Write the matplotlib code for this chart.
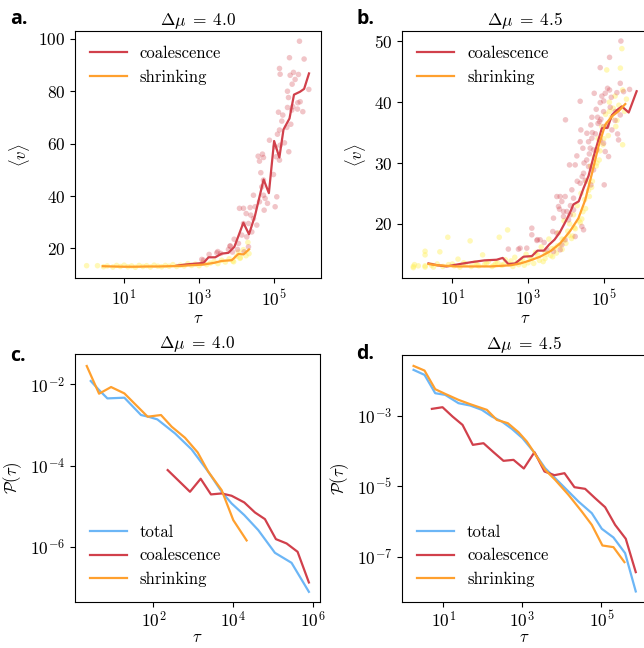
import numpy as np
import matplotlib
matplotlib.use("Agg")
import matplotlib.pyplot as plt

plt.rcParams['font.family'] = 'serif'
plt.rcParams['font.serif'] = ['cmr10', 'DejaVu Serif']
plt.rcParams['mathtext.fontset'] = 'cm'
plt.rcParams['axes.formatter.use_mathtext'] = True
plt.rcParams['font.size'] = 12

RED = '#d1404b'
ORANGE = '#ffa02e'
BLUE = '#6cb6f6'
YELLOW = '#fff060'

# ---------------- Panel a (dmu = 4.0): log10(tau), <v>
a_coal_logt = [2.40, 2.67, 3.00, 3.12, 3.25, 3.43, 3.60, 3.78, 3.94, 4.18, 4.33, 4.49, 4.72, 4.86, 5.00, 5.14, 5.25, 5.41, 5.53, 5.69, 5.80, 5.93]
a_coal_v = [13.4, 13.9, 14.3, 14.5, 16.6, 16.6, 18.0, 18.3, 20.6, 29.8, 25.4, 32.5, 46.3, 41.1, 61.0, 54.7, 65.4, 69.6, 78.7, 79.8, 80.9, 86.8]
a_shr_logt = [0.43, 0.70, 1.00, 1.30, 1.60, 1.90, 2.20, 2.50, 2.80, 3.10, 3.40, 3.60, 3.87, 4.05, 4.18, 4.33]
a_shr_v = [13.2, 13.1, 13.0, 13.0, 13.1, 13.1, 13.2, 13.3, 13.6, 13.8, 14.5, 15.2, 15.5, 17.9, 17.7, 19.6]

a_coal_pts_logt = [5.676, 5.409, 5.80, 5.143, 5.16, 5.516, 5.427, 5.649, 5.56, 5.48, 5.356, 5.925, 5.383, 5.694,
                   5.631, 5.498, 5.356, 5.623, 5.765, 5.116, 5.231, 5.471, 5.205, 5.445, 5.338, 5.143, 5.089,
                   4.876, 5.276, 5.16, 5.027, 4.574, 4.689, 4.716, 4.609, 5.054, 5.143, 5.391, 4.645, 4.716,
                   4.983, 4.671, 5.071, 4.449, 4.716, 4.76, 4.609, 4.823, 5.027, 4.734, 4.076, 4.183, 4.36,
                   4.494, 4.254, 4.378, 4.449, 4.183, 4.316, 4.538, 4.405, 4.138, 4.271, 3.934, 4.049, 3.827,
                   4.023, 4.2, 4.316, 3.266, 3.497, 3.577, 3.782, 3.826, 3.889, 3.115, 3.07, 3.47]
a_coal_pts_v = [99.1, 92.8, 92.3, 88.7, 86.5, 87.2, 86.1, 86.4, 84.5, 82.7, 80.0, 80.7, 77.6, 76.0,
                75.6, 74.1, 73.8, 73.2, 72.2, 72.0, 70.9, 72.8, 68.6, 67.4, 66.2, 65.2, 63.6,
                61.3, 60.3, 59.4, 58.8, 55.2, 56.0, 54.7, 53.3, 55.0, 53.7, 56.9, 48.9, 46.1,
                48.2, 43.5, 39.7, 40.3, 40.3, 39.1, 37.8, 37.2, 35.9, 34.6, 35.3, 35.3, 35.6,
                35.9, 33.3, 32.7, 31.4, 29.5, 29.5, 28.9, 26.3, 25.1, 24.4, 23.5, 21.9, 20.9,
                19.6, 18.7, 20.6, 17.7, 18.8, 18.1, 19.6, 20.9, 18.6, 15.5, 15.8, 18.3]
a_shr_pts_logt = [0.0, 0.29, 0.45, 0.55, 0.7, 0.8, 0.9, 1.0, 1.1, 1.2, 1.3, 1.4, 1.5, 1.6, 1.7, 1.8, 1.9, 2.0,
                  2.1, 2.2, 2.3, 2.4, 2.5, 2.6, 2.7, 2.8, 2.9, 3.0, 3.1, 3.2, 3.3, 3.4, 3.5, 3.6, 3.7, 3.8,
                  3.9, 4.0, 4.05, 4.1, 4.18, 4.25, 4.3, 4.33, 3.92, 4.09]
a_shr_pts_v = [13.4, 13.4, 13.0, 13.3, 12.9, 13.5, 13.1, 13.6, 13.0, 13.3, 12.8, 13.5, 13.1, 13.4, 12.9, 13.6, 13.2, 13.0,
               13.5, 13.2, 13.8, 13.1, 13.6, 13.3, 14.2, 13.5, 14.0, 13.4, 14.6, 13.8, 14.4, 15.0, 14.2, 15.5, 14.8, 16.0,
               15.2, 17.0, 18.6, 16.5, 19.5, 17.2, 22.3, 18.0, 14.9, 16.2]

# ---------------- Panel b (dmu = 4.5)
b_coal_logt = [0.37, 0.60, 0.85, 1.20, 1.50, 1.85, 2.17, 2.33, 2.48, 2.66, 2.88, 3.10, 3.25, 3.42, 3.56, 3.70, 3.84,
               3.96, 4.10, 4.20, 4.34, 4.47, 4.60, 4.73, 4.86, 4.95, 5.10, 5.22, 5.35, 5.48, 5.66, 5.87]
b_coal_v = [13.5, 13.2, 13.0, 13.4, 13.7, 14.0, 14.1, 14.4, 13.4, 13.5, 14.6, 14.7, 15.6, 15.6, 16.6, 17.4, 18.6,
            20.0, 21.7, 23.2, 23.7, 25.9, 27.9, 31.0, 33.8, 35.7, 35.8, 37.9, 38.7, 39.3, 38.3, 41.8]
b_shr_logt = [0.37, 0.60, 0.85, 1.10, 1.40, 1.70, 2.00, 2.30, 2.55, 2.80, 3.06, 3.32, 3.59, 3.85, 4.11, 4.33, 4.51,
              4.69, 4.86, 5.04, 5.22, 5.39, 5.57]
b_shr_v = [13.4, 13.2, 13.1, 13.0, 13.0, 13.0, 13.0, 13.1, 13.2, 13.5, 14.0, 14.6, 15.5, 16.8, 18.8, 20.9, 23.9,
           28.3, 32.7, 36.3, 37.7, 38.5, 39.7]

b_coal_pts_logt = [5.454, 5.154, 4.907, 5.437, 5.683, 5.101, 5.154, 5.04, 4.749, 5.348, 5.525, 4.951, 4.907, 4.378,
                   5.172, 4.802, 4.996, 5.304, 5.437, 4.837, 4.925, 4.687, 4.89, 4.66, 4.996, 5.084, 5.216, 4.396,
                   4.555, 5.366, 4.687, 4.907, 4.996, 4.599, 4.378, 5.392, 4.449, 4.643, 4.731, 4.819, 5.04, 5.128,
                   4.29, 4.096, 4.246, 4.467, 4.599, 4.431, 4.378, 4.51, 4.66, 4.731, 5.013, 3.761, 3.849, 3.981,
                   4.158, 4.202, 3.893, 3.805, 3.937, 3.832, 4.026, 4.114, 4.202, 3.673, 3.937, 4.07, 4.422, 4.467,
                   3.655, 3.761, 3.1, 3.232, 3.32, 3.1, 3.426, 3.893, 3.849, 3.673, 3.496, 2.967, 3.981, 4.246,
                   3.99, 2.747, 3.249, 2.79, 2.48, 4.85, 4.78, 5.0, 5.2, 4.55, 4.62, 4.3, 4.12, 4.48, 4.7, 5.3]
b_coal_pts_v = [50.05, 47.37, 45.68, 43.1, 42.1, 42.28, 42.0, 41.46, 41.46, 41.57, 41.73, 41.0, 39.93, 40.15,
                39.16, 38.83, 38.45, 38.45, 37.9, 37.52, 37.19, 37.52, 36.81, 36.26, 35.99, 35.99, 35.44, 35.44,
                34.89, 34.78, 34.07, 33.8, 33.25, 33.5, 33.5, 33.8, 32.43, 32.43, 32.16, 32.16, 31.88, 31.06,
                31.17, 29.69, 29.69, 28.32, 29.42, 27.78, 26.68, 27.12, 26.41, 28.87, 26.41, 24.49, 24.49, 24.49,
                25.59, 24.22, 23.67, 22.85, 22.03, 22.41, 22.03, 21.48, 22.3, 20.94, 21.21, 20.66, 19.57, 19.02,
                18.74, 18.47, 19.29, 17.27, 17.38, 18.2, 16.94, 16.56, 15.73, 15.46, 15.73, 16.01, 17.38, 17.92,
                37.1, 15.84, 17.4, 16.0, 15.85, 36.5, 34.8, 40.2, 40.8, 30.5, 31.5, 27.0, 23.0, 30.0, 35.0, 37.0]
b_shr_pts_logt = [-0.03, -0.03, 0.0, 0.28, 0.28, 0.28, 0.28, 0.45, 0.6, 0.67, 0.75, 0.88, 0.9, 1.05, 1.15, 1.2, 1.35,
                  1.47, 1.5, 1.6, 1.7, 1.8, 1.85, 1.95, 2.05, 2.15, 2.24, 2.3, 2.4, 2.46, 2.5, 2.6, 2.65, 2.75, 2.8,
                  2.9, 2.95, 3.0, 3.05, 3.15, 3.2, 3.3, 3.35, 3.45, 3.5, 3.55, 3.6, 3.7, 3.75, 3.8, 3.85, 3.9, 3.95,
                  4.0, 4.05, 4.1, 4.15, 4.2, 4.25, 4.3, 4.35, 4.4, 4.45, 4.5, 4.55, 4.6, 4.65, 4.7, 4.75, 4.8, 4.85,
                  4.9, 4.95, 5.0, 5.05, 5.1, 5.08, 5.15, 5.2, 5.25, 5.3, 5.35, 5.4, 5.44, 5.48, 5.5, 5.55, 5.6, 5.5,
                  3.4, 3.65, 3.9, 4.18, 4.42, 4.62, 4.88, 5.12,
                  2.2, 2.35, 2.55, 2.7, 2.85, 3.1, 3.25, 3.45, 3.62, 3.78, 3.95, 4.08, 4.22, 4.38, 4.52, 4.68,
                  4.82, 4.98, 5.15, 5.32, 1.0, 1.3, 1.65, 1.9, 2.1, 0.5, 0.1]
b_shr_pts_v = [13.0, 12.8, 13.3, 13.1, 12.9, 15.5, 14.9, 13.2, 13.4, 15.4, 13.0, 17.8, 13.3, 13.1, 14.2, 12.9, 13.4,
               17.2, 13.0, 13.6, 13.1, 14.9, 13.3, 13.8, 13.0, 13.5, 17.8, 13.2, 14.1, 19.0, 13.4, 13.0, 14.5, 13.3, 13.9,
               13.2, 15.0, 13.6, 14.4, 13.5, 15.3, 14.0, 16.2, 14.3, 15.0, 17.5, 14.8, 16.0, 15.2, 18.5, 16.6, 17.5, 20.5,
               16.8, 18.8, 20.0, 17.6, 21.5, 19.2, 23.0, 20.5, 25.0, 22.0, 24.0, 27.0, 25.5, 29.5, 27.0, 31.0, 29.5, 34.0,
               32.0, 36.0, 34.0, 38.0, 36.5, 45.3, 40.0, 37.5, 39.0, 41.0, 37.0, 39.5, 45.6, 48.8, 42.0, 38.5, 40.5, 33.0,
               13.8, 14.6, 15.8, 18.0, 20.8, 24.5, 30.5, 34.5,
               13.6, 13.3, 13.9, 13.6, 14.2, 14.3, 14.9, 15.4, 15.9, 16.4, 17.4, 18.1, 19.4, 20.2, 22.5, 26.0,
               30.0, 33.0, 38.5, 36.0, 13.4, 13.6, 13.3, 13.5, 13.2, 12.9, 13.1]

# ---------------- Panel c (dmu = 4.0): log10(tau), log10(P)
c_tot_logt = [0.434, 0.642, 0.850, 1.275, 1.692, 1.875, 2.100, 2.542, 2.958, 3.375, 3.709, 3.958, 4.275, 4.625, 5.042, 5.458, 5.892]
c_tot_logp = [-1.919, -2.141, -2.346, -2.329, -2.755, -2.796, -2.862, -3.206, -3.600, -4.149, -4.641, -4.928, -5.214, -5.583, -6.141, -6.387, -7.100]
c_coal_logt = [2.359, 2.917, 3.184, 3.442, 3.709, 3.958, 4.275, 4.542, 4.792, 5.067, 5.334, 5.609, 5.892]
c_coal_logp = [-4.108, -4.641, -4.321, -4.706, -4.682, -4.739, -4.903, -5.149, -5.313, -5.805, -5.911, -6.116, -6.870]
c_shr_logt = [0.334, 0.642, 0.942, 1.275, 1.525, 1.858, 2.192, 2.459, 2.792, 3.109, 3.375, 3.709, 4.000, 4.334]
c_shr_logp = [-1.550, -2.231, -2.067, -2.223, -2.469, -2.796, -2.755, -3.042, -3.313, -3.673, -4.149, -4.600, -5.337, -5.837]

# ---------------- Panel d (dmu = 4.5)
d_tot_logt = [0.252, 0.529, 0.799, 1.051, 1.388, 1.683, 1.977, 2.230, 2.482, 2.735, 3.004, 3.282, 3.577, 3.829, 4.082,
              4.418, 4.755, 5.008, 5.302, 5.597, 5.866]
d_tot_logp = [-1.693, -1.835, -2.356, -2.403, -2.640, -2.706, -2.829, -3.019, -3.161, -3.369, -3.634, -4.013, -4.487,
              -4.771, -5.055, -5.434, -5.765, -6.210, -6.456, -6.902, -7.990]
d_coal_logt = [0.715, 0.984, 1.237, 1.489, 1.750, 2.019, 2.272, 2.524, 2.777, 3.038, 3.307, 3.560, 3.812, 4.065, 4.317,
               4.587, 4.839, 5.092, 5.344, 5.614, 5.866]
d_coal_logp = [-2.801, -2.754, -3.019, -3.256, -3.824, -3.777, -4.032, -4.278, -4.250, -4.496, -4.032, -4.581, -4.686,
               -4.629, -5.027, -5.074, -5.339, -5.595, -6.097, -6.494, -7.441]
d_shr_logt = [0.252, 0.529, 0.799, 1.051, 1.388, 1.683, 2.104, 2.356, 2.634, 2.903, 3.114, 3.282, 3.577, 3.829, 4.166,
              4.502, 4.755, 5.024, 5.302, 5.580]
d_shr_logp = [-1.580, -1.712, -2.242, -2.375, -2.545, -2.668, -2.829, -3.114, -3.208, -3.464, -3.729, -4.013, -4.534,
              -4.818, -5.244, -5.718, -6.097, -6.684, -6.731, -7.157]

titles = [r'$\Delta\mu\;=\;4.0$', r'$\Delta\mu\;=\;4.5$']
panel_labels = ['a.', 'b.', 'c.', 'd.']

def p10(x):
    return 10.0 ** np.asarray(x)

fig = plt.figure(figsize=(6.44, 6.48), dpi=100)
W, H = 644.0, 648.0
def rect(l, t, r, b):
    return [l / W, 1 - b / H, (r - l) / W, (b - t) / H]

ax_a = fig.add_axes(rect(75, 31, 321, 278))
ax_b = fig.add_axes(rect(402, 31, 648, 278))
ax_c = fig.add_axes(rect(75, 354, 320, 602))
ax_d = fig.add_axes(rect(402, 355, 647, 602))

def scatter_panel(ax, yl, yv, rl, rv, cl, cv, sl, sv):
    ax.scatter(p10(yl), yv, s=16, color=YELLOW, alpha=0.45, edgecolors='none', zorder=1)
    ax.scatter(p10(rl), rv, s=16, color=RED, alpha=0.3, edgecolors='none', zorder=2)
    ax.plot(p10(cl), cv, color=RED, lw=1.6, label='coalescence', zorder=3)
    ax.plot(p10(sl), sv, color=ORANGE, lw=1.6, label='shrinking', zorder=4)
    ax.set_xscale('log')
    ax.set_xlabel(r'$\tau$', labelpad=2)
    ax.set_ylabel(r'$\langle v \rangle$')
    ax.legend(loc='upper left', frameon=False, fontsize=12, handlelength=2.2)

scatter_panel(ax_a, a_shr_pts_logt, a_shr_pts_v, a_coal_pts_logt, a_coal_pts_v,
              a_coal_logt, a_coal_v, a_shr_logt, a_shr_v)
ax_a.set_xlim(10 ** -0.31, 10 ** 6.25)
ax_a.set_ylim(8.7, 103)
ax_a.set_yticks([20, 40, 60, 80, 100])
ax_a.set_xticks([1e1, 1e3, 1e5])

scatter_panel(ax_b, b_shr_pts_logt, b_shr_pts_v, b_coal_pts_logt, b_coal_pts_v,
              b_coal_logt, b_coal_v, b_shr_logt, b_shr_v)
ax_b.set_xlim(10 ** -0.33, 10 ** 6.17)
ax_b.set_ylim(11.1, 51.7)
ax_b.set_yticks([20, 30, 40, 50])
ax_b.set_xticks([1e1, 1e3, 1e5])

def dist_panel(ax, tl, tp, cl, cp, sl, sp):
    ax.plot(p10(tl), p10(tp), color=BLUE, lw=1.6, label='total')
    ax.plot(p10(cl), p10(cp), color=RED, lw=1.6, label='coalescence')
    ax.plot(p10(sl), p10(sp), color=ORANGE, lw=1.6, label='shrinking')
    ax.set_xscale('log')
    ax.set_yscale('log')
    ax.set_xlabel(r'$\tau$', labelpad=0)
    ax.set_ylabel(r'$\mathcal{P}(\tau)$')
    ax.legend(loc='lower left', frameon=False, fontsize=12, handlelength=2.2)

dist_panel(ax_c, c_tot_logt, c_tot_logp, c_coal_logt, c_coal_logp, c_shr_logt, c_shr_logp)
ax_c.set_xlim(10 ** 0.04, 10 ** 6.17)
ax_c.set_ylim(10 ** -7.35, 10 ** -1.255)
ax_c.set_xticks([1e2, 1e4, 1e6])
ax_c.set_yticks([1e-2, 1e-4, 1e-6])

dist_panel(ax_d, d_tot_logt, d_tot_logp, d_coal_logt, d_coal_logp, d_shr_logt, d_shr_logp)
ax_d.set_xlim(10 ** -0.04, 10 ** 6.15)
ax_d.set_ylim(10 ** -8.29, 10 ** -1.27)
ax_d.set_xticks([1e1, 1e3, 1e5])
ax_d.set_yticks([1e-3, 1e-5, 1e-7])

for ax, t in zip([ax_a, ax_b, ax_c, ax_d], titles + titles):
    ax.set_title(t, fontsize=12.5, pad=3)
    ax.minorticks_off()
    ax.tick_params(labelsize=12.5)
for ax in [ax_c, ax_d]:
    ax.tick_params(axis='x', pad=2)

label_pos = [(10, 24), (357, 24), (10, 361), (356, 359)]
for lab, (x, y) in zip(panel_labels, label_pos):
    fig.text(x / W, 1 - y / H, lab, fontsize=14, fontweight='bold', family='Open Sans')

fig.savefig('out.png', dpi=100)
